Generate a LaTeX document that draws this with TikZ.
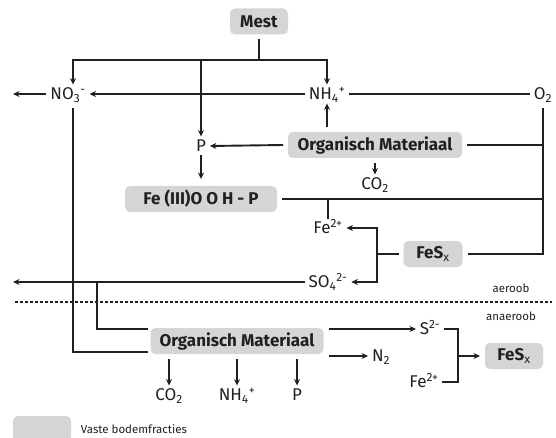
\documentclass[tikz,border=0pt]{standalone}
\usepackage{fontspec}
\setmainfont{Fira Sans}
\usetikzlibrary{arrows.meta}
\definecolor{boxgrey}{HTML}{D4D5D7}
\definecolor{ink}{HTML}{231F20}
\begin{document}
\begin{tikzpicture}[x=1pt,y=-1pt, line width=1.9pt, draw=ink, text=ink,
  >={Stealth[length=6.5pt,width=6pt]},
  box/.style={fill=boxgrey, rounded corners=5pt, minimum height=26pt, inner xsep=4pt,
    outer sep=5pt, font=\bfseries\fontsize{17}{19}\selectfont},
  lbl/.style={font=\fontsize{17}{19}\selectfont, inner xsep=3pt, inner ysep=1pt,
    text height=13pt, text depth=2pt},
  small/.style={font=\fontsize{11.5}{13}\selectfont, inner sep=1pt}]
\useasboundingbox (0,0) rectangle (556,438);
% nodes
\node[box, minimum width=58pt] (mest) at (259,21.5) {Mest};
\node[lbl] (no3) at (68,94) {NO\textsubscript{3}\textsuperscript{-}};
\node[lbl] (nh4) at (327,94) {NH\textsubscript{4}\textsuperscript{+}};
\node[lbl] (o2) at (543,94) {O\textsubscript{2}};
\node[lbl] (p1) at (201,146) {P};
\node[box, minimum width=174pt] (om1) at (375,145) {Organisch Materiaal};
\node[lbl] (co2a) at (375,184) {CO\textsubscript{2}};
\node[box, minimum width=152pt] (fe3) at (201,199) {Fe (III)O O H - P};
\node[lbl] (fe2a) at (328,228) {Fe\textsuperscript{2+}};
\node[box, minimum width=59pt] (fes1) at (433,254) {FeS\textsubscript{\mdseries x}};
\node[lbl] (so4) at (328,282) {SO\textsubscript{4}\textsuperscript{2-}};
\node[small] (aer) at (511,288) {aeroob};
\node[small] (anaer) at (511,316) {anaeroob};
\node[box, minimum width=173pt] (om2) at (237,341) {Organisch Materiaal};
\node[lbl] (s2) at (430,329) {S\textsuperscript{2-}};
\node[lbl] (n2) at (381,356) {N\textsubscript{2}};
\node[lbl] (fe2b) at (424,382) {Fe\textsuperscript{2+}};
\node[box, minimum width=58pt] (fes2) at (514,356) {FeS\textsubscript{\mdseries x}};
\node[lbl] (co2b) at (169,395) {CO\textsubscript{2}};
\node[lbl] (nh4b) at (237,395) {NH\textsubscript{4}\textsuperscript{+}};
\node[lbl] (p2) at (297,395) {P};
\node[fill=boxgrey, rounded corners=5pt, minimum width=58pt, minimum height=26pt] (leg) at (42,429) {};
\node[small, anchor=west] (legt) at (79,429) {Vaste bodemfracties};
% coordinates
\coordinate (top) at (259,60);
\coordinate (br1) at (377,254);
\coordinate (br2) at (458,356);
% connectors
\draw (mest.south) -- (top);
\draw[<->] (73,0 |- no3.north) -- (73,60) -- (nh4.north |- top) -- (nh4.north);
\draw[->] (p1.north |- top) -- (p1.north);
\draw[->] (nh4.west) -- (no3.east);
\draw[->] (no3.west) -- (13,0 |- no3.west);
\draw (nh4.east) -- (o2.west);
\draw[shorten <=5pt] (o2.south) |- (fes1.east);
\draw (om1.east) -- (om1.east -| o2.south);
\draw (fe3.east) -- (fe3.east -| o2.south);
\draw (fe2a.north |- fe3.east) -- (fe2a.north);
\draw[->] (om1.west) -- (p1.east);
\draw[->] (om1.north -| nh4.south) -- (nh4.south);
\draw[->] (om1.south -| co2a.north) -- (co2a.north);
\draw[->, shorten >=2pt] (p1.south) -- (p1.south |- fe3.north);
\draw (fes1.west) -- (br1);
\draw[<->] (fe2a.east) -| (br1) |- (so4.east);
\draw[->] (so4.west) -- (13,0 |- so4.west);
% lower part
\draw[dash pattern=on 2.5pt off 2.5pt, line width=2pt] (15,302) -- (552,302);
\draw[shorten <=5pt] (73,0 |- no3.south) |- ([xshift=2pt,yshift=-11pt]om2.west);
\draw (97,0 |- so4.west) |- ([xshift=2pt,yshift=12pt]om2.west);
\draw[->] ([yshift=12pt]om2.east) -- (s2.west);
\draw[->] ([yshift=-15pt]om2.east) -- (n2.west);
\draw (s2.east) -| (br2) |- (fe2b.east);
\draw[->] (br2) -- (fes2.west);
\draw[->] (om2.south -| co2b.north) -- (co2b.north);
\draw[->] (om2.south -| nh4b.north) -- (nh4b.north);
\draw[->] (om2.south -| p2.north) -- (p2.north);
\end{tikzpicture}
\end{document}
